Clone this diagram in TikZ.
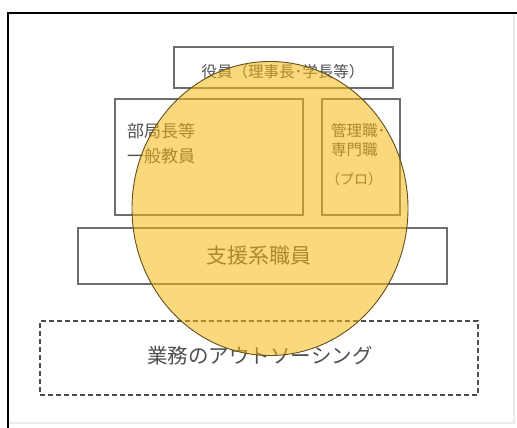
\documentclass[tikz,border=0pt]{standalone}
\usepackage{fontspec}
\setmainfont{Noto Sans CJK JP}
\usetikzlibrary{shapes.geometric}
\definecolor{boxline}{RGB}{110,110,110}
\definecolor{txt}{RGB}{80,80,80}
\definecolor{gold}{RGB}{246,184,20}
\definecolor{goldline}{RGB}{100,78,25}
\tikzset{
  box/.style={draw=boxline,line width=1.1pt,rectangle,inner sep=0pt},
  dbox/.style={draw=black!70,line width=1.3pt,dash pattern=on 5pt off 3pt,rectangle,inner sep=0pt},
  lbl/.style={text=txt,inner sep=0pt,anchor=center},
  lblw/.style={text=txt,inner sep=0pt,anchor=west,align=left},
}
\begin{document}
\begin{tikzpicture}[x=1pt,y=-1pt]
\useasboundingbox (0,0) rectangle (517,428);
\fill[white] (0,0) rectangle (517,428);
% frame
\draw[black!8,line width=1.2pt] (514,13) -- (514,423) -- (8,423);
\draw[black,line width=2pt] (517,13) -- (8,13) -- (8,428);
% boxes
\node[box,minimum width=219pt,minimum height=41pt] (yak) at (283.5,67.5) {};
\node[box,minimum width=188pt,minimum height=116pt] (bukyoku) at (209,157) {};
\node[box,minimum width=78pt,minimum height=116pt] (kanri) at (361,157) {};
\node[box,minimum width=369pt,minimum height=56pt] (shien) at (262.5,256) {};
\node[dbox,minimum width=438pt,minimum height=74pt] (gyomu) at (259,358) {};
% texts
\node[lbl,font=\fontsize{15.5}{17}\selectfont] (tyak) at (283,72) {役員（理事長･学長等）};
\node[lblw,font=\fontsize{17}{25}\selectfont] (tbuk) at (127,144) {部局長等\\一般教員};
\node[lblw,font=\fontsize{15.5}{19}\selectfont] (tkan1) at (331,140) {管理職･\\専門職};
\node[lblw,font=\fontsize{14}{19}\selectfont] (tkan2) at (326,179) {（プロ）};
\node[lbl,font=\fontsize{21}{24}\selectfont] (tshien) at (258.5,256) {支援系職員};
\node[lbl,font=\fontsize{20.5}{24}\selectfont] (tgyomu) at (260,356) {業務のアウトソーシング};
% ellipse
\node[ellipse,draw=goldline,line width=0.9pt,fill=gold,fill opacity=0.55,minimum width=276pt,minimum height=294pt,inner sep=0pt] (circ) at (270,208.5) {};
\end{tikzpicture}
\end{document}
